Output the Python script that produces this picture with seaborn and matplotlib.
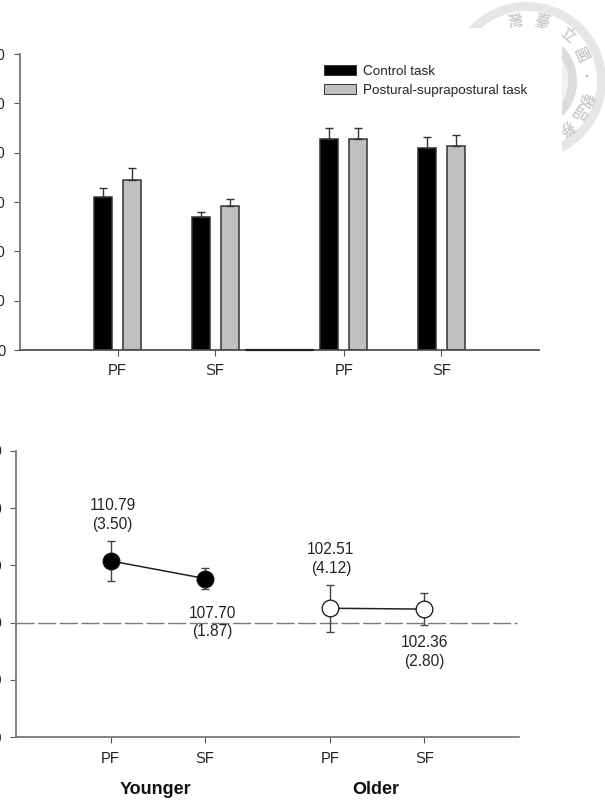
import matplotlib
matplotlib.use("Agg")
import matplotlib.pyplot as plt
from matplotlib.lines import Line2D
from matplotlib.patches import Circle, Rectangle, Wedge
from matplotlib.transforms import IdentityTransform
import numpy as np
import pandas as pd
import seaborn as sns

sns.set_style("ticks")
plt.rcParams["font.family"] = ["Liberation Sans", "Noto Sans CJK TC"]
plt.rcParams["text.hinting"] = "no_autohint"

# Reaction measures per age group and foot condition
conditions = ["PF", "SF", "PF", "SF"]
groups = ["Younger", "Older"]
tasks = ["Control task", "Postural-suprapostural task"]
control_means = [311, 269, 427, 410]
control_errors = [18, 11, 23.5, 22]
dual_means = [344.6, 291, 428.5, 414]
dual_errors = [24, 15, 21, 21]
bar_ticks = [0, 100, 200, 300, 400, 500, 600]

# Percentage measures shown as connected points
younger_means = [110.79, 107.70]
younger_errors = [3.50, 1.87]
older_means = [102.51, 102.36]
older_errors = [4.12, 2.80]
point_ticks = [80, 90, 100, 110, 120, 130]
reference_level = 100

# Layout
W, H = 605, 805
slots = [0, 1, 2.32, 3.32]
x_limits = (-1, 4.32)


def px_axes(fig, left, top, right, bottom):
    return fig.add_axes([left / W, 1 - bottom / H, (right - left) / W, (bottom - top) / H])


def style_axis(ax, ticks):
    ax.set_xlim(*x_limits)
    ax.set_ylim(ticks[0], ticks[-1])
    ax.set_yticks(ticks)
    ax.set_xticks(slots)
    ax.set_xticklabels(conditions)
    ax.set_xlabel("")
    ax.set_ylabel("")
    ax.patch.set_alpha(0)
    sns.despine(ax=ax)
    ax.spines["left"].set_color("#808080")
    ax.spines["left"].set_linewidth(1.4)
    ax.spines["bottom"].set_color("#6e6e6e")
    ax.spines["bottom"].set_linewidth(1.2)
    ax.tick_params(axis="both", labelsize=10.6, color="#555555", width=0.8,
                   length=4, labelcolor="#222222")


fig = plt.figure(figsize=(W / 100, H / 100), dpi=100, facecolor="white")

# University seal showing behind the upper right corner of the page
pixel = IdentityTransform()
cx, cy = 527, H - 81
fig.add_artist(Wedge((cx, cy), 79, 0, 360, width=9, transform=pixel, fc="#e6e6e6", ec="none", zorder=-5))
fig.add_artist(Wedge((cx, cy), 50, 0, 360, width=9, transform=pixel, fc="#dcdcdc", ec="none", zorder=-5))
fig.add_artist(Circle((cx, cy), 41, transform=pixel, fc="#f1f1f1", ec="none", zorder=-5))
for glyph, angle in zip(["灣", "臺", "立", "國", "敎", "品", "務"], [101, 76, 49, 26, -18, -32, -50]):
    a = np.deg2rad(angle)
    fig.text(cx + 61 * np.cos(a), cy + 61 * np.sin(a), glyph, transform=pixel, fontsize=10.5,
             color="#c6c6c6", rotation=angle - 90, ha="center", va="center", zorder=-4,
             family="Noto Sans CJK TC")
fig.add_artist(Circle((cx + 60, cy + 5), 1.2, transform=pixel, fc="#bdbdbd", ec="none", zorder=-4))
fig.add_artist(Rectangle((0, 0), 562, H - 28, transform=pixel, fc="white", ec="none", zorder=-3))
fig.add_artist(Rectangle((0, H - 28), 468, 28, transform=pixel, fc="white", ec="none", zorder=-3))

# Upper panel: grouped bars
ax_bar = px_axes(fig, 20, 54, 539, 350)
bars = pd.DataFrame({
    "slot": slots * 2,
    "value": control_means + dual_means,
    "task": [tasks[0]] * 4 + [tasks[1]] * 4,
})
sns.barplot(data=bars, x="slot", y="value", hue="task", native_scale=True, errorbar=None,
            palette=["black", "#c0c0c0"], width=0.595, gap=0.38, edgecolor="#333333",
            linewidth=1.1, ax=ax_bar)
style_axis(ax_bar, bar_ticks)
ax_bar.tick_params(axis="y", pad=6.5)
ax_bar.tick_params(axis="x", pad=6)
ax_bar.spines["bottom"].set_color("#444444")
ax_bar.add_line(Line2D([226 / 519, 293 / 519], [0, 0], transform=ax_bar.get_yaxis_transform(),
                       color="#222222", lw=1.6, clip_on=False, zorder=5))

handles = ax_bar.get_legend().legend_handles
for handle in handles:
    handle.set_linewidth(0.7)
ax_bar.legend(handles, tasks, loc="upper left", bbox_to_anchor=((324 - 20) / 519, 1 - (65 - 54) / 296),
              frameon=False, fontsize=9.75, borderpad=0, borderaxespad=0, handlelength=2.36,
              handleheight=0.72, handletextpad=0.55, labelspacing=0.42)

bar_patches = [p for c in ax_bar.containers for p in c]
for patch, mean, err in zip(bar_patches, control_means + dual_means, control_errors + dual_errors):
    centre = patch.get_x() + patch.get_width() / 2
    ax_bar.errorbar(centre, mean, yerr=[[0], [err]], color="#333333", elinewidth=1, capsize=3.2,
                    capthick=1, zorder=1)

# Lower panel: connected means with error bars
ax_pts = px_axes(fig, 16, 451, 519, 737)
points = pd.DataFrame({
    "slot": slots,
    "value": younger_means + older_means,
    "group": [groups[0]] * 2 + [groups[1]] * 2,
})
ax_pts.axhline(reference_level, xmax=0.996, color="#7a7a7a", lw=1, dashes=(13, 2.6), zorder=1)
for group, face in zip(groups, ["black", "white"]):
    subset = points[points["group"] == group]
    sns.lineplot(data=subset, x="slot", y="value", color="#222222", lw=1.1, marker="o", markersize=12,
                 markerfacecolor=face, markeredgecolor="#111111", markeredgewidth=0.9, errorbar=None,
                 zorder=4, ax=ax_pts)
style_axis(ax_pts, point_ticks)
ax_pts.tick_params(axis="y", pad=6)
ax_pts.tick_params(axis="x", pad=6.5)
ax_pts.add_line(Line2D([223 / 503, 285 / 503], [0, 0], transform=ax_pts.get_yaxis_transform(),
                       color="#555555", lw=1.5, clip_on=False, zorder=5))

all_means = younger_means + older_means
all_errors = younger_errors + older_errors
label_offsets = [(2, 46), (7, -44), (1, 49), (0, -43)]
for slot, mean, err, (dx, dy) in zip(slots, all_means, all_errors, label_offsets):
    ax_pts.errorbar(slot, mean, yerr=err, color="#444444", elinewidth=1, capsize=3.2, capthick=1, zorder=2)
    ax_pts.annotate(f"{mean:.2f}\n({err:.2f})", (slot, mean), xytext=(dx * 0.72, dy * 0.72),
                    textcoords="offset points", ha="center", va="center", fontsize=11.2,
                    linespacing=1.3, color="#222222", zorder=6)

for label, x_px in zip(groups, [155, 375.5]):
    fig.text(x_px / W, 1 - 789 / H, label, ha="center", va="center", fontsize=13,
             fontweight="bold", color="#111111")

fig.savefig("out.png", dpi=100)
